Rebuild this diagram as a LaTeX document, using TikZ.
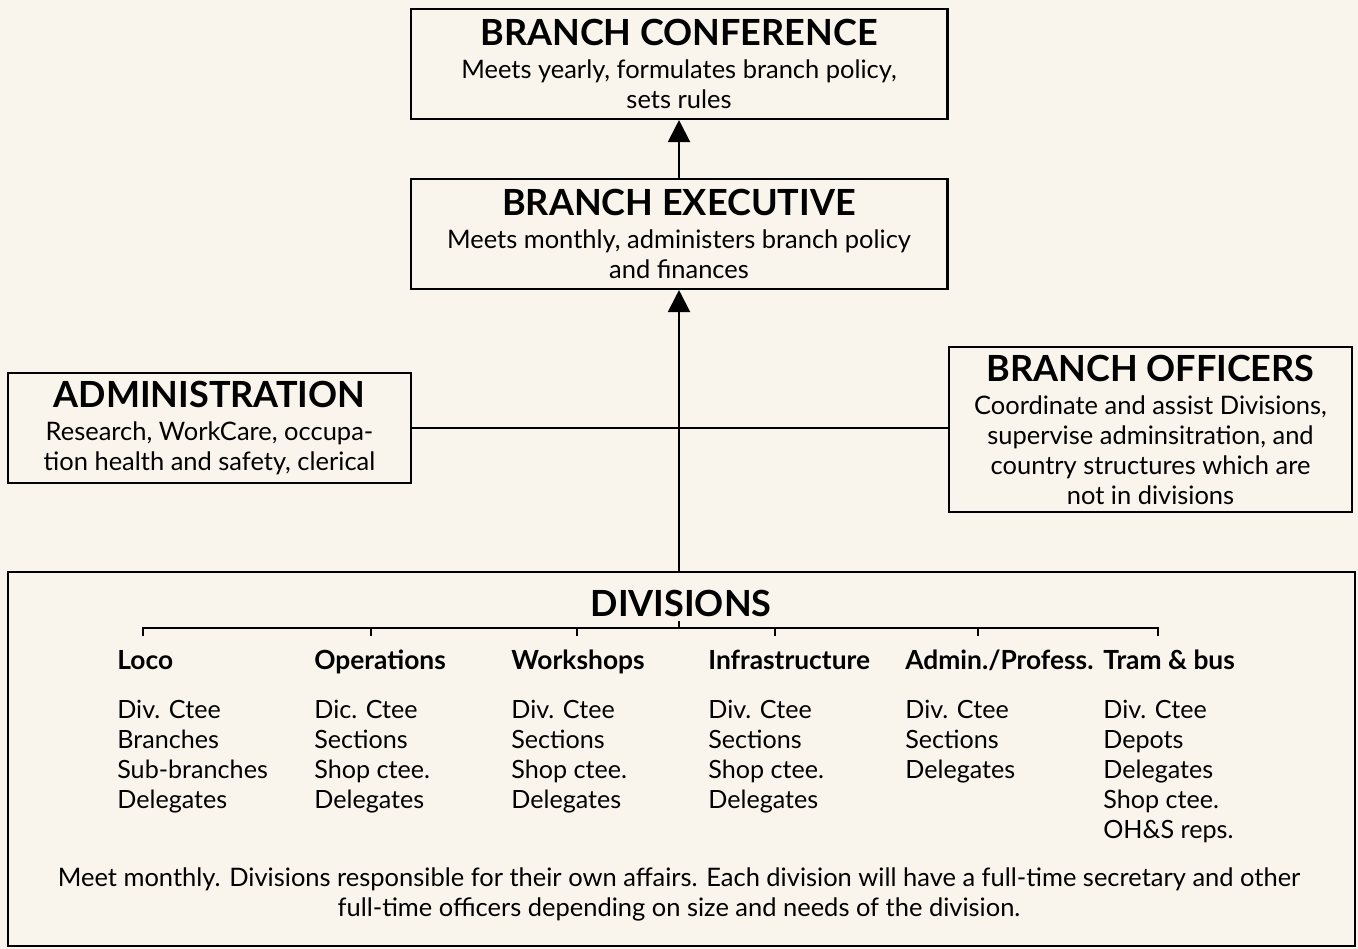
\documentclass[tikz,border=0pt]{standalone}
\usepackage{fontspec}
\setmainfont{Lato}
\usetikzlibrary{arrows.meta}
\definecolor{paper}{RGB}{249,245,237}
\newcommand\boxhead[1]{{\fontsize{20.5}{23}\selectfont\bfseries #1}\\[2pt]}
\tikzset{
  unitbox/.style={draw, line width=1.2pt, fill=paper, align=center, inner sep=0pt,
    font=\fontsize{14.5}{17}\selectfont},
  divhead/.style={anchor=base west, inner sep=0pt, font=\fontsize{15}{17}\selectfont\bfseries},
  divlist/.style={anchor=north west, inner sep=0pt, align=left, font=\fontsize{14.3}{17}\selectfont},
}
\begin{document}
\begin{tikzpicture}[x=0.02cm, y=-0.02cm]
  \fill[paper] (0,0) rectangle (1358,949);
  \useasboundingbox (0,0) rectangle (1358,949);
  \draw
    (679,64) node[unitbox, minimum width=10.74cm, minimum height=2.2cm] (conf)
      {\boxhead{BRANCH CONFERENCE}Meets yearly, formulates branch policy,\\sets rules}
    (679,234) node[unitbox, minimum width=10.74cm, minimum height=2.2cm] (exec)
      {\boxhead{BRANCH EXECUTIVE}Meets monthly, administers branch policy\\and finances}
    (209.5,428) node[unitbox, minimum width=8.06cm, minimum height=2.2cm] (admin)
      {\boxhead{ADMINISTRATION}Research, WorkCare, occupa-\\tion health and safety, clerical}
    (1150.5,429.5) node[unitbox, minimum width=8.06cm, minimum height=3.3cm] (officers)
      {\boxhead{BRANCH OFFICERS}Coordinate and assist Divisions,\\supervise adminsitration, and\\country structures which are\\not in divisions}
    (681.5,759) node[unitbox, minimum width=26.94cm, minimum height=7.48cm] (divs){};
  \draw
    (681,603) node[font=\fontsize{20.5}{23}\selectfont\bfseries] (divtitle){DIVISIONS}
    (117,669) node[divhead] (loco){Loco}
    (314,669) node[divhead] (ops){Operations}
    (511,669) node[divhead] (works){Workshops}
    (708,669) node[divhead] (infra){Infrastructure}
    (905,669) node[divhead] (adminprof){Admin./Profess.}
    (1103,669) node[divhead] (tram){Tram \& bus}
    (117,700) node[divlist] (locolist){Div. Ctee\\Branches\\Sub-branches\\Delegates}
    (314,700) node[divlist] (opslist){Dic. Ctee\\Sections\\Shop ctee.\\Delegates}
    (511,700) node[divlist] (workslist){Div. Ctee\\Sections\\Shop ctee.\\Delegates}
    (708,700) node[divlist] (infralist){Div. Ctee\\Sections\\Shop ctee.\\Delegates}
    (905,700) node[divlist] (adminproflist){Div. Ctee\\Sections\\Delegates}
    (1103,700) node[divlist] (tramlist){Div. Ctee\\Depots\\Delegates\\Shop ctee.\\OH\&S reps.}
    (679,894) node[inner sep=0pt, align=center, font=\fontsize{14.5}{17}\selectfont] (divnote)
      {Meet monthly. Divisions responsible for their own affairs. Each division will have a full-time secretary and other\\
       full-time officers depending on size and needs of the division.};
  \begin{scope}[line width=1.2pt, -{Triangle[length=0.44cm, width=0.44cm]}]
    \draw (exec.north) to (conf.south);
    \draw (divs.north -| exec.south) to (exec.south);
  \end{scope}
  \begin{scope}[line width=1.2pt, -]
    \draw (admin.east) to (admin.east -| officers.west);
    \draw (143,636) |- (1158,628) -- (1158,636);
    \draw (371,628) to (371,636);
    \draw (577,628) to (577,636);
    \draw (775,628) to (775,636);
    \draw (978,628) to (978,636);
    \draw (679,628) to (679,621);
  \end{scope}
\end{tikzpicture}
\end{document}
